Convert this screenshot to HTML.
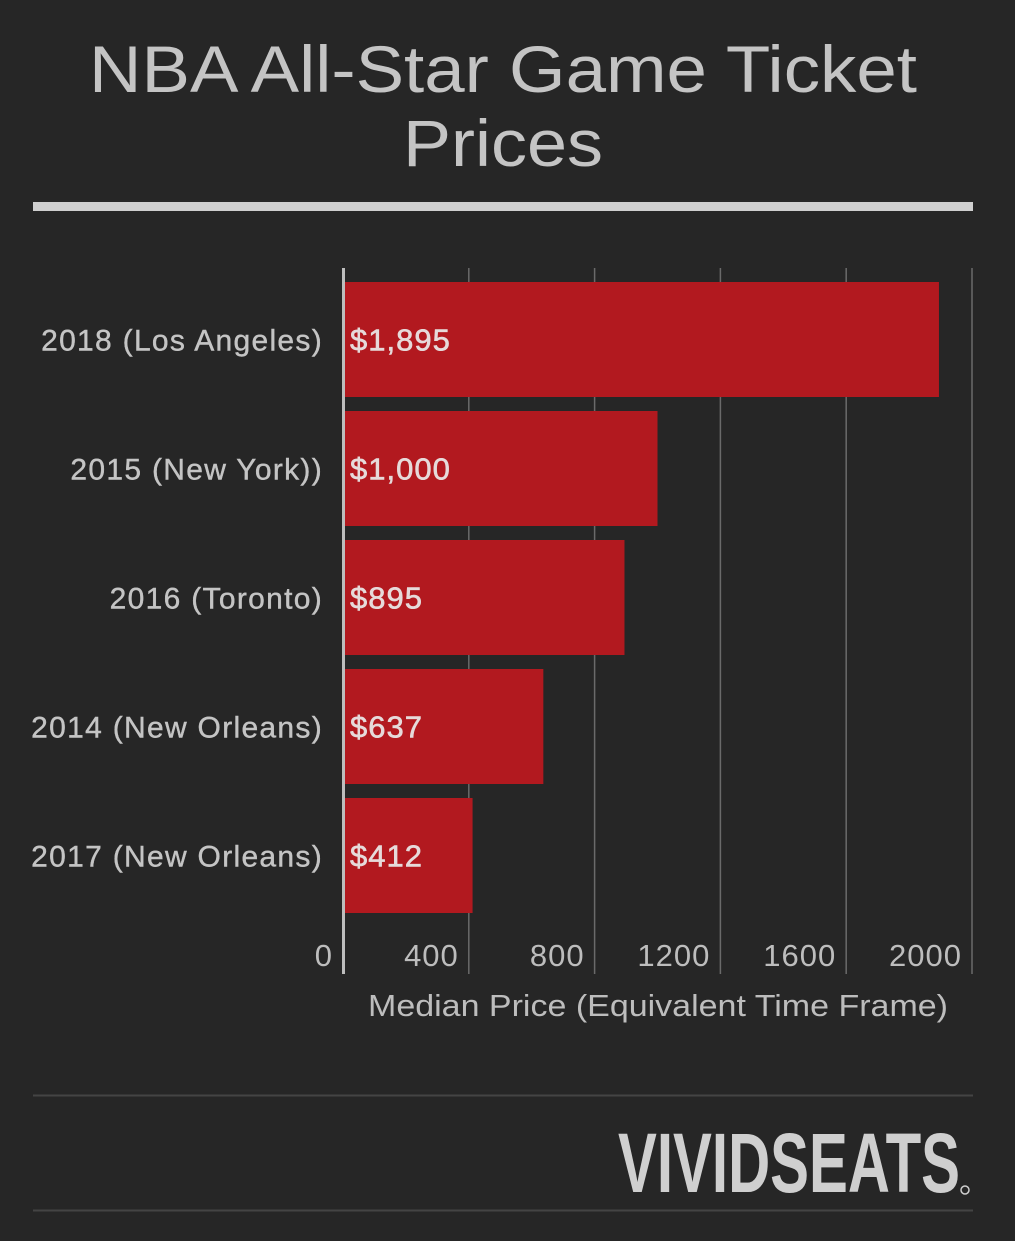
<!DOCTYPE html>
<html><head><meta charset="utf-8"><style>
html,body{margin:0;padding:0;background:#262626;}
svg{display:block;font-family:"Liberation Sans",sans-serif;}
</style></head><body>
<svg id="chart" width="1015" height="1241" viewBox="0 0 1015 1241">
<rect width="1015" height="1241" fill="#262626"/>
<text x="503" y="92" text-anchor="middle" font-size="66" fill="#c4c4c4" textLength="828" lengthAdjust="spacingAndGlyphs">NBA All-Star Game Ticket</text>
<text x="503" y="166" text-anchor="middle" font-size="66" fill="#c4c4c4" textLength="200" lengthAdjust="spacingAndGlyphs">Prices</text>
<rect x="33" y="202" width="940" height="9" fill="#cfcfcf"/>
<g id="grid"></g>
<g id="bars"></g>
<g id="ticks"></g>
<line x1="343.5" y1="268" x2="343.5" y2="974" stroke="#bdbdbd" stroke-width="3"/>
<text x="368" y="1016" font-size="31" fill="#bdbdbd" textLength="580" lengthAdjust="spacingAndGlyphs">Median Price (Equivalent Time Frame)</text>
<line x1="33" y1="1095.5" x2="973" y2="1095.5" stroke="#444" stroke-width="2"/>
<text x="960" y="1192" text-anchor="end" font-size="84" font-weight="bold" fill="#cfcfcf" textLength="342" lengthAdjust="spacingAndGlyphs">VIVIDSEATS</text>
<circle cx="965" cy="1190" r="4" fill="none" stroke="#cfcfcf" stroke-width="1.5"/>
<line x1="33" y1="1210.5" x2="973" y2="1210.5" stroke="#444" stroke-width="2"/>
</svg>
<script>
const categories=["2018 (Los Angeles)","2015 (New York))","2016 (Toronto)","2014 (New Orleans)","2017 (New Orleans)"];
const values=[1895,1000,895,637,412];
const valueLabels=["$1,895","$1,000","$895","$637","$412"];
const tickValues=[0,400,800,1200,1600,2000];
const NS="http://www.w3.org/2000/svg";
const x0=343,pxPer=(972-343)/2000;
function xs(v){return x0+v*pxPer;}
const bandTop=282,band=129,barH=115;
function ys(i){return bandTop+i*band;}
function mk(tag,attrs,parent,txt){const e=document.createElementNS(NS,tag);for(const k in attrs)e.setAttribute(k,attrs[k]);if(txt!==undefined)e.textContent=txt;parent.appendChild(e);return e;}
const grid=document.getElementById('grid'),bars=document.getElementById('bars'),ticks=document.getElementById('ticks');
tickValues.forEach(t=>{
  if(t>0){const l=mk('line',{x1:xs(t),y1:268,x2:xs(t),y2:974,stroke:'#6a6a6a','stroke-width':1.5},grid);
  
  }
  const tx=mk('text',{x:xs(t)-10,y:966,'text-anchor':'end','font-size':31,fill:'#bdbdbd','letter-spacing':1},ticks,String(t));
  
  
});
categories.forEach((c,i)=>{
  const y=ys(i);
  const r=mk('rect',{x:x0+2,y:y,width:xs(values[i])-x0-2,height:barH,fill:'#b2191f'},bars);
  
  
  const v=mk('text',{x:350,y:y+barH/2+11,'font-size':31,fill:'#e6dada','stroke':'#e6dada','stroke-width':0.6,'letter-spacing':1},bars,valueLabels[i]);
  
  
  const lb=mk('text',{x:323,y:y+barH/2+11,'text-anchor':'end','font-size':30,fill:'#c4c4c4','stroke':'#c4c4c4','stroke-width':0.4,'letter-spacing':1.3},bars,c);
  
  
});
</script>
</body></html>
